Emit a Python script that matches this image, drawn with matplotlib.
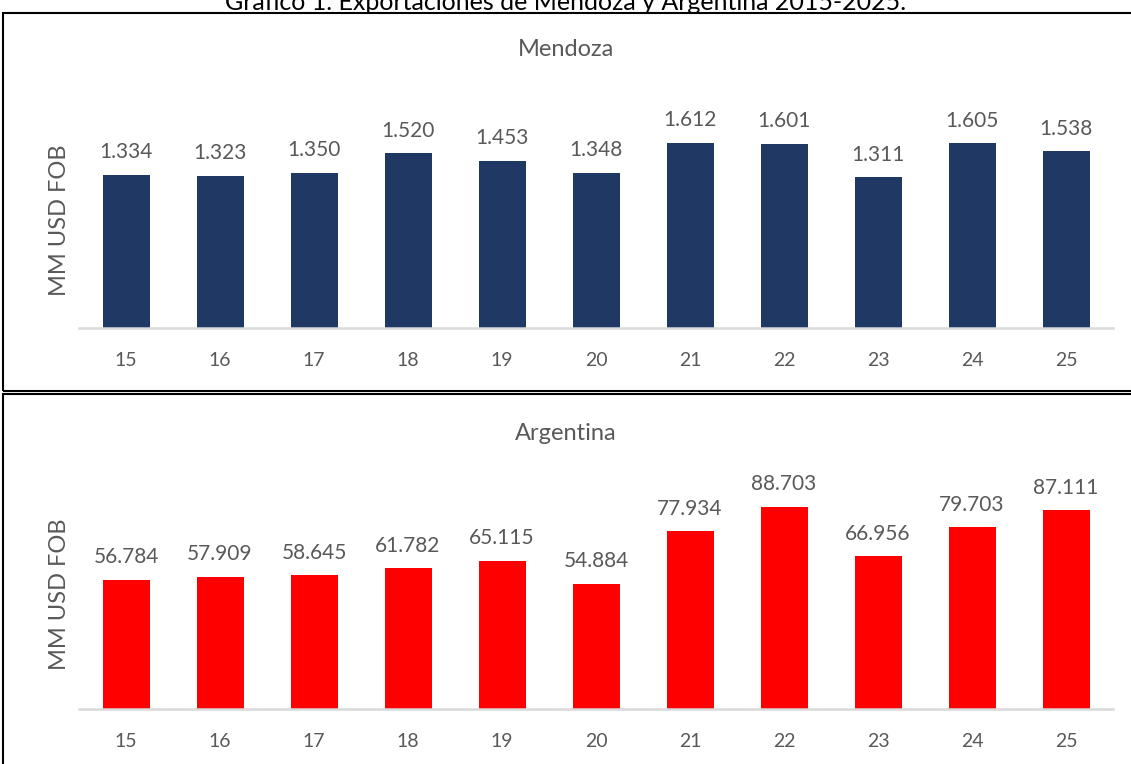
import matplotlib
matplotlib.use("Agg")
import matplotlib.pyplot as plt
from matplotlib.patches import Rectangle

years = ["15", "16", "17", "18", "19", "20", "21", "22", "23", "24", "25"]
mendoza = [1.334, 1.323, 1.350, 1.520, 1.453, 1.348, 1.612, 1.601, 1.311, 1.605, 1.538]
argentina = [56.784, 57.909, 58.645, 61.782, 65.115, 54.884, 77.934, 88.703, 66.956, 79.703, 87.111]
mendoza_labels = ["1.334", "1.323", "1.350", "1.520", "1.453", "1.348", "1.612", "1.601", "1.311", "1.605", "1.538"]
argentina_labels = ["56.784", "57.909", "58.645", "61.782", "65.115", "54.884", "77.934", "88.703", "66.956", "79.703", "87.111"]

plt.rcParams['font.family'] = ['Lato', 'DejaVu Sans']

W, H = 1131, 764
fig = plt.figure(figsize=(W / 100, H / 100), dpi=100)


def fx(px):
    return px / W


def fy(py):
    return 1 - py / H


# panel borders
for (x0, y0, x1, y1) in [(3, 13, 1135, 391), (3, 394, 1135, 770)]:
    fig.patches.append(Rectangle((fx(x0), fy(y1)), fx(x1 - x0), (y1 - y0) / H,
                                 transform=fig.transFigure, fill=False,
                                 edgecolor="black", linewidth=1.5))

fig.text(0.5, fy(2), "Gráfico 1. Exportaciones de Mendoza y Argentina 2015-2025.",
         ha="center", va="center", fontsize=18, color="black")


def panel(base_px, top_px, values, labels, ymax, color, title, title_y, ylab_y, offset):
    ax = fig.add_axes([fx(79), fy(base_px), fx(1113 - 79), (base_px - top_px) / H])
    x = list(range(len(values)))
    ax.bar(x, values, width=0.5, color=color, zorder=2)
    ax.set_xlim(-0.5, len(values) - 0.5)
    ax.set_ylim(0, ymax)
    ax.set_yticks([])
    for s in ["top", "right", "left"]:
        ax.spines[s].set_visible(False)
    ax.spines["bottom"].set_color("#d9d9d9")
    ax.spines["bottom"].set_linewidth(1.8)
    ax.set_xticks(x)
    ax.set_xticklabels(years, fontsize=14, color="#595959")
    ax.tick_params(axis="x", length=0, pad=17)
    ax.patch.set_alpha(0)
    for xi, v, lab in zip(x, values, labels):
        ax.annotate(lab, (xi, v), xytext=(0, offset), textcoords="offset points",
                    ha="center", va="bottom", fontsize=15, color="#595959")
    fig.text(0.5, fy(title_y), title, ha="center", va="center", fontsize=17, color="#595959")
    fig.text(fx(60), fy(ylab_y), "MM USD FOB", rotation=90, ha="center", va="center",
             fontsize=17, color="#595959")
    return ax


panel(328, 121, mendoza, mendoza_labels, 1.8, "#1F3864", "Mendoza", 50, 220, 9)
panel(709, 481, argentina, argentina_labels, 100, "#FF0000", "Argentina", 433, 594, 9)

fig.savefig("out.png", dpi=100)
